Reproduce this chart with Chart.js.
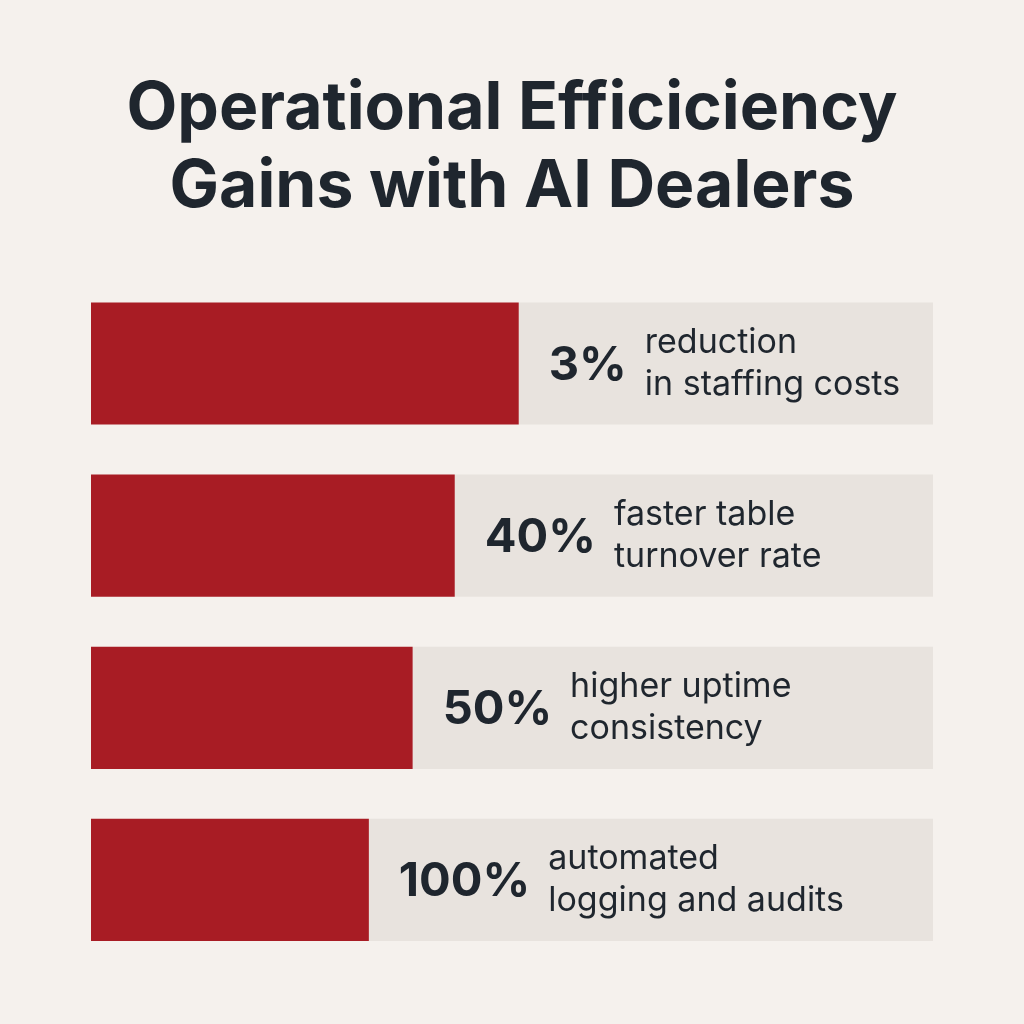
<!DOCTYPE html>
<html>
<head>
<meta charset="utf-8">
<script src="https://cdn.jsdelivr.net/npm/chart.js@4.4.1/dist/chart.umd.min.js"></script>
<style>
  html, body { margin: 0; padding: 0; background: #f5f1ed; }
  #wrap { width: 1024px; height: 1024px; }
</style>
</head>
<body>
<div id="wrap"><canvas id="chart" width="1024" height="1024"></canvas></div>
<script>
// values
const titleLines = ["Operational Efficiciency", "Gains with AI Dealers"];
const percentLabels = ["3%", "40%", "50%", "100%"];
const descLines = [
  ["reduction", "in staffing costs"],
  ["faster table", "turnover rate"],
  ["higher uptime", "consistency"],
  ["automated", "logging and audits"]
];
// red fill length of each bar, as % of the full track
const fillValues = [50.8, 43.2, 38.2, 33.0];
const trackMax = 100;

const RED = "#a81c24";
const TRACK = "#e8e3de";
const INK = "#1f262e";

// draws the "3%  reduction / in staffing costs" text on each bar
const barText = {
  id: "barText",
  afterDatasetsDraw(chart) {
    const ctx = chart.ctx;
    const x = chart.scales.x, y = chart.scales.y;
    ctx.save();
    ctx.fillStyle = INK;
    ctx.textBaseline = "middle";
    fillValues.forEach((v, i) => {
      const cy = y.getPixelForValue(i);
      let px = x.getPixelForValue(v) + 30;
      ctx.font = "bold 47px Inter";
      ctx.textAlign = "left";
      ctx.fillText(percentLabels[i], px, cy + 2);
      px += ctx.measureText(percentLabels[i]).width + 18;
      ctx.font = "34px Inter";
      ctx.fillText(descLines[i][0], px, cy - 21);
      ctx.fillText(descLines[i][1], px, cy + 21);
    });
    ctx.restore();
  }
};

new Chart(document.getElementById("chart"), {
  type: "bar",
  data: {
    labels: percentLabels,
    datasets: [
      { data: fillValues, backgroundColor: RED, stack: "s" },
      { data: fillValues.map(v => trackMax - v), backgroundColor: TRACK, stack: "s" }
    ]
  },
  options: {
    indexAxis: "y",
    responsive: false,
    animation: false,
    events: [],
    layout: { padding: { left: 91, right: 91, bottom: 58 } },
    datasets: { bar: { categoryPercentage: 1, barPercentage: 0.71, borderWidth: 0 } },
    scales: {
      x: { stacked: true, min: 0, max: trackMax, display: false },
      y: { stacked: true, display: false }
    },
    plugins: {
      legend: { display: false },
      tooltip: { enabled: false },
      title: {
        display: true,
        text: titleLines,
        color: INK,
        font: { family: "Inter", size: 66, weight: "bold", lineHeight: 1.17 },
        padding: { top: 71, bottom: 52 }
      }
    }
  },
  plugins: [barText]
});
</script>
</body>
</html>
